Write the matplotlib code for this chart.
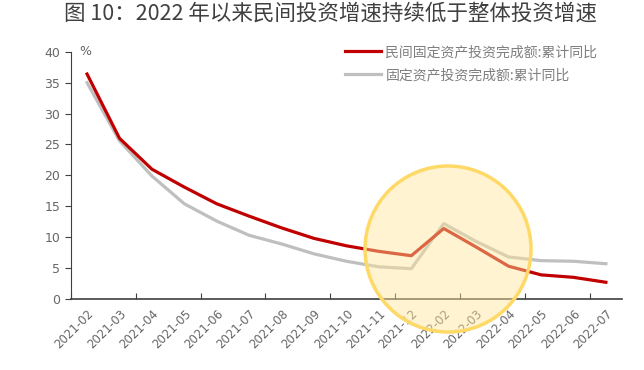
import matplotlib.pyplot as plt
from matplotlib.patches import Circle
from matplotlib.transforms import IdentityTransform

plt.rcParams["font.family"] = ["Noto Sans CJK SC", "DejaVu Sans"]

months = ["2021-02", "2021-03", "2021-04", "2021-05", "2021-06", "2021-07",
          "2021-08", "2021-09", "2021-10", "2021-11", "2021-12", "2022-02",
          "2022-03", "2022-04", "2022-05", "2022-06", "2022-07"]
private_fai = [36.4, 26.0, 21.0, 18.1, 15.4, 13.4, 11.5, 9.8, 8.6, 7.7, 7.0,
               11.4, 8.4, 5.3, 3.9, 3.5, 2.7]
total_fai = [35.0, 25.6, 19.9, 15.4, 12.6, 10.3, 8.9, 7.3, 6.1, 5.2, 4.9,
             12.2, 9.3, 6.8, 6.2, 6.1, 5.7]

fig = plt.figure(figsize=(6.44, 3.70), dpi=100)
ax = fig.add_axes([0.110, 0.192, 0.856, 0.668])

x = range(len(months))
ax.plot(x, private_fai, color="#C00000", lw=2.3, label="民间固定资产投资完成额:累计同比", zorder=3)
ax.plot(x, total_fai, color="#BFBFBF", lw=2.3, label="固定资产投资完成额:累计同比", zorder=2)

ax.set_xlim(-0.5, len(months) - 0.5)
ax.set_ylim(0, 40)
ax.set_yticks(range(0, 41, 5))
ax.set_xticks([i - 0.5 for i in range(0, len(months), 2)])
ax.set_xticklabels([])
ax.set_xticks(list(x), minor=True)
ax.set_xticklabels(months, minor=True, rotation=45, ha="right", rotation_mode="anchor",
                   fontsize=8.5, color="#666666", family="DejaVu Sans")
ax.tick_params(axis="x", which="minor", length=0, pad=6)
ax.tick_params(axis="x", which="major", direction="in", length=4, color="#404040")
ax.tick_params(axis="y", direction="out", length=4, labelsize=9, labelcolor="#666666",
               color="#404040")
for lab in ax.get_yticklabels():
    lab.set_family("DejaVu Sans")

for side in ("top", "right"):
    ax.spines[side].set_visible(False)
ax.spines["left"].set_color("#404040")
ax.spines["bottom"].set_color("#404040")
ax.spines["bottom"].set_linewidth(1.2)

ax.text(-0.05, 40, "%", fontsize=9, color="#666666",
        va="center", ha="center", family="DejaVu Sans")

leg = ax.legend(loc="upper left", bbox_to_anchor=(345 / 644, 1 - 45 / 370),
                bbox_transform=fig.transFigure, frameon=False, fontsize=10,
                handlelength=2.6, handletextpad=0.3, labelspacing=0.65,
                borderaxespad=0, borderpad=0)
for t in leg.get_texts():
    t.set_color("#7F7F7F")

fig.text(0.513, 0.962, "图 10：2022 年以来民间投资增速持续低于整体投资增速",
         ha="center", va="center", fontsize=15.5, color="#404040")

circ = Circle((448, 370 - 249), 83, transform=IdentityTransform(),
              facecolor="#FFE699", alpha=0.45, edgecolor="none", zorder=10)
ring = Circle((448, 370 - 249), 83, transform=IdentityTransform(),
              facecolor="none", edgecolor="#FFD966", lw=2.5, zorder=11)
fig.patches.extend([circ, ring])

fig.savefig("out.png", dpi=100)
